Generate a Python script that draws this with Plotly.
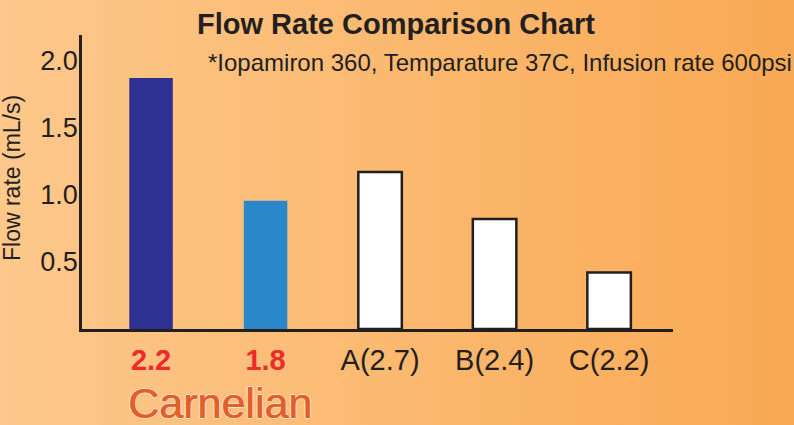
import plotly.graph_objects as go
import urllib.parse

# ---- data ----
categories = ["S1", "S2", "A", "B", "C"]
tick_labels = ["<b><span style='color:#EE2A2A'>2.2</span></b>",
               "<b><span style='color:#EE2A2A'>1.8</span></b>",
               "A(2.7)", "B(2.4)", "C(2.2)"]
flow_rates = [1.87, 0.955, 1.17, 0.82, 0.42]
bar_colors = ["#2E3192", "#2A87CA", "#FFFFFF", "#FFFFFF", "#FFFFFF"]
bar_line_colors = ["#2E3192", "#2A87CA", "#231F20", "#231F20", "#231F20"]
bar_line_widths = [0, 0, 2.5, 2.5, 2.5]
y_ticks = [0.5, 1.0, 1.5, 2.0]

W, H = 794, 425
L, R, T, B = 82, 121, 35, 96

fig = go.Figure()
fig.add_trace(go.Bar(
    x=categories, y=flow_rates, width=0.38,
    marker=dict(color=bar_colors,
                line=dict(color=bar_line_colors, width=bar_line_widths)),
    hoverinfo="skip",
))

# gradient background image (svg data uri)
svg = (f"<svg xmlns='http://www.w3.org/2000/svg' width='{W}' height='{H}'>"
       "<defs><linearGradient id='g' x1='0' y1='0' x2='1' y2='0'>"
       "<stop offset='0' stop-color='#FDC88C'/>"
       "<stop offset='0.5' stop-color='#FBB970'/>"
       "<stop offset='1' stop-color='#F9A953'/>"
       "</linearGradient></defs>"
       f"<rect width='{W}' height='{H}' fill='url(#g)'/></svg>")
src = "data:image/svg+xml;charset=utf-8," + urllib.parse.quote(svg)
pw, ph = W - L - R, H - T - B

halo = "0.7px 0 0 #E35F2A, " + ", ".join(
    f"{dx}px {dy}px 0 #FCE4D2" for dx, dy in [(1.6, 0), (-1, 0), (0, 1), (0, -1)])

fig.update_layout(
    width=W, height=H,
    margin=dict(l=L, r=R, t=T, b=B),
    paper_bgcolor="#FBB970",
    plot_bgcolor="rgba(0,0,0,0)",
    showlegend=False,
    font=dict(family="Liberation Sans, Arial, sans-serif", color="#231F20"),
    images=[dict(source=src, xref="paper", yref="paper",
                 x=-L / pw, y=1 + T / ph, sizex=W / pw, sizey=H / ph,
                 xanchor="left", yanchor="top", sizing="stretch",
                 layer="below")],
    xaxis=dict(
        type="category", range=[-0.603, 4.558],
        tickvals=categories, ticktext=tick_labels,
        showline=True, linecolor="#231F20", linewidth=2.5,
        showgrid=False, zeroline=False, ticks="",
        tickfont=dict(size=29, color="#231F20"),
        ticklabelstandoff=3,
    ),
    yaxis=dict(
        range=[0, 2.19], tickvals=y_ticks, tickformat=".1f",
        showline=True, linecolor="#231F20", linewidth=2.5,
        showgrid=False, zeroline=False, ticks="",
        tickfont=dict(size=27, color="#231F20"),
        ticklabelstandoff=-4,
    ),
    annotations=[
        dict(text="Flow rate (mL/s)", xref="paper", yref="paper", textangle=-90,
             x=(12 - L) / pw, y=1 - (178 - T) / ph, xanchor="center", yanchor="middle",
             showarrow=False, font=dict(size=23, color="#231F20")),
        dict(text="<b>Flow Rate Comparison Chart</b>", xref="paper", yref="paper",
             x=(396 - L) / pw, y=1 + (T - 24) / ph, xanchor="center", yanchor="middle",
             showarrow=False, font=dict(size=29, color="#231F20")),
        dict(text="*Iopamiron 360, Temparature 37C, Infusion rate 600psi",
             xref="paper", yref="paper",
             x=(206 - L) / pw, y=1 + (T - 62) / ph, xanchor="left", yanchor="middle",
             showarrow=False, font=dict(size=24, color="#231F20")),
        dict(text="Carnelian", xref="paper", yref="paper",
             x=(126 - L) / pw, y=-(403 - (H - B)) / ph, xanchor="left", yanchor="middle",
             showarrow=False,
             font=dict(size=43, color="#E35F2A",
                       family="Liberation Sans, Arial, sans-serif",
                       shadow=halo)),
    ],
)

fig.write_html("out.html", config={"displayModeBar": False},
               post_script="document.body.style.margin='0';")
